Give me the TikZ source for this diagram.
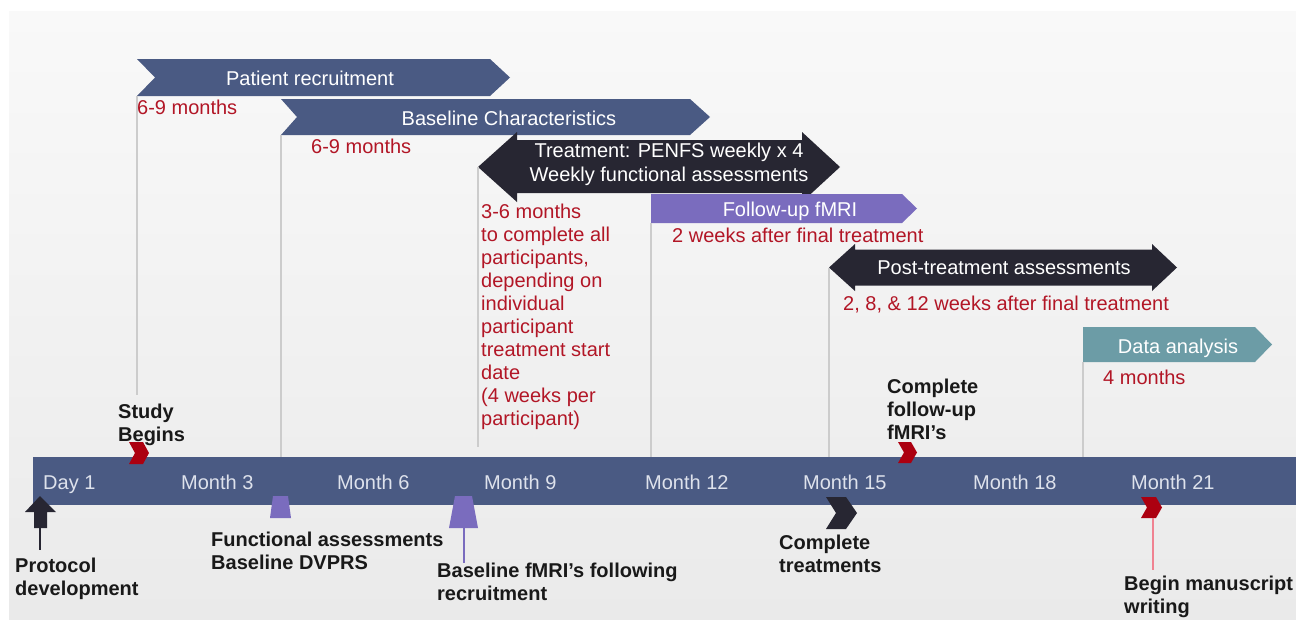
\documentclass[tikz,border=0pt]{standalone}
\usepackage{fontspec}
\setmainfont{Liberation Sans}

\definecolor{slate}{RGB}{74,90,131}
\definecolor{ink}{RGB}{39,38,50}
\definecolor{lilac}{RGB}{122,108,190}
\definecolor{datateal}{RGB}{108,156,166}
\definecolor{notered}{RGB}{178,22,38}
\definecolor{flag}{RGB}{172,0,16}
\definecolor{flagline}{RGB}{240,130,145}
\definecolor{guidegray}{RGB}{204,204,204}
\definecolor{monthgray}{RGB}{222,226,236}
\definecolor{paneltop}{RGB}{249,249,249}
\definecolor{panelbottom}{RGB}{234,234,234}

\begin{document}
\begin{tikzpicture}[x=1pt,y=-1pt,font=\fontsize{20}{23}\selectfont,
  band/.style={text=white,inner sep=0pt,anchor=base},
  month/.style={text=monthgray,inner sep=0pt,anchor=base west},
  span/.style={text=notered,inner sep=0pt,anchor=base west},
  spanblock/.style={text=notered,inner sep=0pt,anchor=north west,align=left},
  event/.style={font=\fontsize{20}{23}\selectfont\bfseries,text=black!90,inner sep=0pt,anchor=north west,align=left},
  guide/.style={draw=guidegray,line width=1.5pt}]
  \useasboundingbox (0,0) rectangle (1296,619);
  \fill[white] (0,0) rectangle (1296,619);
  \shade[top color=paneltop,bottom color=panelbottom] (9,11) rectangle (1296,619);

  % phases
  \fill[slate] (137,59) -- (490,59) -- (510,77.5) -- (490,96) -- (137,96) coordinate (recruit foot) -- (155,77.5) -- cycle;
  \node[band] (recruit) at (310,85) {Patient recruitment};
  \node[span] (recruit time) at (137,114) {6-9 months};

  \fill[slate] (281,99) -- (690,99) -- (710,117) -- (690,135) -- (281,135) coordinate (baseline foot) -- (297,117) -- cycle;
  \node[band] (baseline) at (509,125) {Baseline Characteristics};
  \node[span] (baseline time) at (311,153) {6-9 months};

  \fill[ink] (478,167) coordinate (treat tip) -- (517,132) -- (517,140) -- (802,140) -- (802,132) -- (840,167) -- (802,202) -- (802,193) -- (517,193) -- (517,202) -- cycle;
  \node[band,anchor=north,align=center,font=\fontsize{20}{24}\selectfont] (treat) at (669,142.5) {Treatment: PENFS weekly x 4\\Weekly functional assessments};
  \node[spanblock] (treat time) at (481,203.5) {3-6 months\\to complete all\\participants,\\depending on\\individual\\participant\\treatment start\\date\\(4 weeks per\\participant)};

  \fill[lilac] (651,194) -- (902,194) -- (917,208.5) -- (902,223) -- (651,223) coordinate (followup foot) -- cycle;
  \node[band] (followup) at (790,216) {Follow-up fMRI};
  \node[span] (followup time) at (672,242) {2 weeks after final treatment};

  \fill[ink] (829,267.5) coordinate (post tip) -- (855,244) -- (855,249.5) -- (1152,249.5) -- (1152,244) -- (1177,267.5) -- (1152,291) -- (1152,285.5) -- (855,285.5) -- (855,291) -- cycle;
  \node[band] (post) at (1004,274) {Post-treatment assessments};
  \node[span] (post time) at (843,310) {2, 8, \& 12 weeks after final treatment};

  \fill[datateal] (1083,327) -- (1255,327) -- (1272,344.5) -- (1255,362) -- (1083,362) coordinate (analysis foot) -- cycle;
  \node[band] (analysis) at (1178,353) {Data analysis};
  \node[span] (analysis time) at (1103,384) {4 months};

  % time line
  \node[fill=slate,inner sep=0pt,minimum width=1263pt,minimum height=48pt,anchor=north west] (bar) at (33,457) {};

  \draw[guide] (recruit foot) -- ++(0,299);
  \draw[guide] (baseline foot) -- (baseline foot |- bar.north);
  \draw[guide] (treat tip) -- ++(0,280);
  \draw[guide] (followup foot) -- (followup foot |- bar.north);
  \draw[guide] (post tip) -- (post tip |- bar.north);
  \draw[guide] (analysis foot) -- (analysis foot |- bar.north);

  \node[month] (day1) at (43,489) {Day 1};
  \node[month] (month3) at (181,489) {Month 3};
  \node[month] (month6) at (337,489) {Month 6};
  \node[month] (month9) at (484,489) {Month 9};
  \node[month] (month12) at (645,489) {Month 12};
  \node[month] (month15) at (803,489) {Month 15};
  \node[month] (month18) at (973,489) {Month 18};
  \node[month] (month21) at (1131,489) {Month 21};

  % milestones
  \fill[flag] (129,442) -- (143,442) -- (149,453) -- (143,464) -- (129,464) -- (135,453) -- cycle;
  \node[event] (begins) at (118,403.5) {Study\\Begins};

  \fill[flag] (898,442) -- (911,442) -- (917,452.5) -- (911,463) -- (898,463) -- (904,452.5) -- cycle;
  \node[event] (fmri done) at (887,378.5) {Complete\\follow-up\\fMRI’s};

  \fill[ink] (40,496) -- (56,512) -- (47,512) -- (47,528) -- (34,528) -- (34,512) -- (25,512) -- cycle;
  \coordinate (protocol tail) at (40,528);
  \node[event] (protocol) at (15,557.5) {Protocol\\development};
  \draw[ink,line width=1.2pt,shorten >=7.5pt] (protocol tail) -- (protocol tail |- protocol.north);

  \fill[lilac] (273,496) -- (288,496) -- (291,518) -- (270,518) -- cycle;
  \node[event] (functional) at (211,531.5) {Functional assessments\\Baseline DVPRS};

  \fill[lilac] (455,496) -- (472,496) -- (478,528) -- (449,528) -- cycle;
  \coordinate (fmri tail) at (464,528);
  \node[event] (fmri) at (437,562.5) {Baseline fMRI’s following\\recruitment};
  \draw[lilac,line width=1.5pt] (fmri tail) -- (fmri tail |- fmri.north);

  \fill[ink] (826,497) -- (846,497) -- (857,513) -- (846,529) -- (826,529) -- (836,513) -- cycle;
  \node[event] (treat done) at (779,534.5) {Complete\\treatments};

  \fill[flag] (1141,497) -- (1156,497) -- (1162,507.5) -- (1156,518) -- (1141,518) -- (1147,507.5) -- cycle;
  \coordinate (manuscript tail) at (1153,518);
  \node[event] (manuscript) at (1124,576) {Begin manuscript\\writing};
  \draw[flagline,line width=1.2pt,shorten >=6pt] (manuscript tail) -- (manuscript tail |- manuscript.north);
\end{tikzpicture}
\end{document}
